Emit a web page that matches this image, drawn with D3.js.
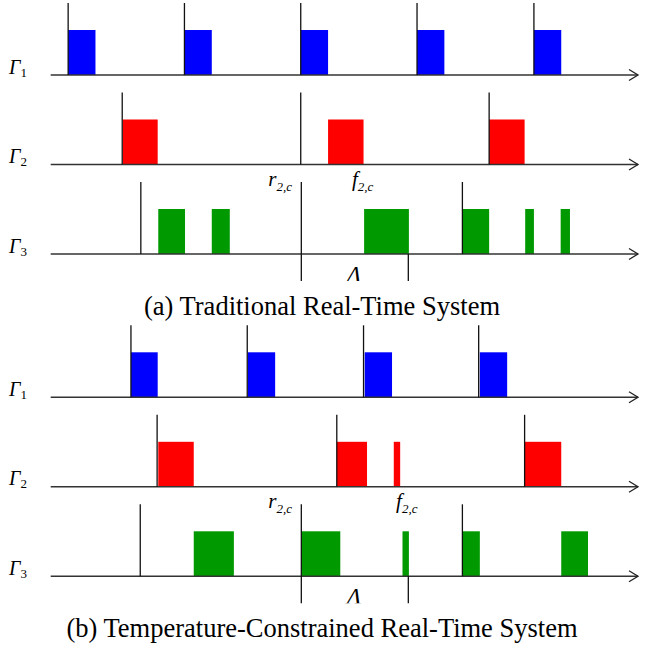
<!DOCTYPE html>
<html>
<head>
<meta charset="utf-8">
<script src="https://cdn.jsdelivr.net/npm/d3@7"></script>
<style>
  body { margin: 0; background: #fff; }
  text { font-family: "Liberation Serif", "Times New Roman", serif; }
</style>
</head>
<body>
<div id="chart"></div>
<script>
const width = 653, height = 645;

const taskNames = ["1", "2", "3"];
const taskColors = ["#0000ff", "#ff0000", "#009900"];

// panel (a) traditional
const releasesA = [[3, 23, 43, 63, 83.1], [12.3, 43, 75.4], [15.5, 43.1, 70.8]];
const jobsA = [
    [[3, 7.7], [23, 27.7], [43, 47.7], [63, 67.7], [83.1, 87.8]],
    [[12.4, 18.4], [47.7, 53.8], [75.4, 81.5]],
    [[18.5, 23.1], [27.7, 30.8], [53.9, 61.6], [70.8, 75.4], [81.6, 83.1], [87.7, 89.3]]
];
// panel (b) temperature constrained
const releasesB = [[13.8, 33.8, 53.8, 73.6], [18.3, 49.2, 81.5], [15.4, 43.1, 70.8]];
const jobsB = [
    [[13.8, 18.4], [33.9, 38.6], [54, 58.7], [73.8, 78.5]],
    [[18.5, 24.6], [49.2, 54.4], [59, 60.1], [81.5, 87.8]],
    [[24.6, 31.5], [43.1, 49.8], [60.5, 61.6], [70.8, 73.8], [87.8, 92.4]]
];
const critRelease = 43.1, critDeadline = 61.5;
const fLabelA = 51.8, fLabelB = 59.4;
const captions = ["(a) Traditional Real-Time System", "(b) Temperature-Constrained Real-Time System"];

let svg = d3.select("#chart").append("svg")
    .attr("width", width)
    .attr("height", height);

let x = d3.scaleLinear().domain([0, 101]).range([50.7, 638]);

function drawPanel(top, releases, jobs, fLabel, caption) {
    let g = svg.append("g");
    let rowY = d3.scaleLinear().domain([0, 2]).range([top, top + 179]);

    jobs.forEach(function(rowJobs, i) {
        let y0 = rowY(i);
        g.selectAll(null).data(rowJobs).enter()
            .append("rect")
            .attr("x", d => x(d[0]))
            .attr("y", y0 - 45)
            .attr("width", d => x(d[1]) - x(d[0]))
            .attr("height", 45)
            .attr("fill", taskColors[i]);

        // axis with open arrow
        g.append("line")
            .attr("x1", x(0)).attr("x2", x(101))
            .attr("y1", y0).attr("y2", y0)
            .attr("stroke", "#333").attr("stroke-width", 1.4);
        g.append("path")
            .attr("d", `M${x(101) - 9},${y0 - 5.5}L${x(101)},${y0}L${x(101) - 9},${y0 + 5.5}`)
            .attr("fill", "none").attr("stroke", "#222").attr("stroke-width", 1.3);

        g.selectAll(null).data(releases[i]).enter()
            .append("line")
            .attr("x1", d => x(d)).attr("x2", d => x(d))
            .attr("y1", y0 - 72)
            .attr("y2", d => (i === 2 && d === critRelease) ? y0 + 27 : y0)
            .attr("stroke", "#111").attr("stroke-width", 1.3);

        let lab = g.append("text")
            .attr("x", 9).attr("y", y0 - 1.5)
            .style("font-size", "20px");
        lab.append("tspan").style("font-style", "italic").text("Γ");
        lab.append("tspan").attr("dy", 3).style("font-size", "13px").text(taskNames[i]);
    });

    let y3 = rowY(2);
    g.append("line")
        .attr("x1", x(critDeadline)).attr("x2", x(critDeadline))
        .attr("y1", y3).attr("y2", y3 + 27)
        .attr("stroke", "#111").attr("stroke-width", 1.3);

    let r = g.append("text").attr("x", x(critRelease) - 33).attr("y", y3 - 68)
        .style("font-size", "21px").style("font-style", "italic");
    r.append("tspan").text("r");
    r.append("tspan").attr("dy", 5).style("font-size", "13px").text("2,c");

    let f = g.append("text").attr("x", x(fLabel)).attr("y", y3 - 68)
        .style("font-size", "21px").style("font-style", "italic");
    f.append("tspan").text("f");
    f.append("tspan").attr("dy", 5).style("font-size", "13px").text("2,c");

    let clipId = "clip" + top;
    svg.append("clipPath").attr("id", clipId)
        .append("rect").attr("x", 0).attr("y", y3).attr("width", width).attr("height", 27);
    g.append("text")
        .attr("x", 354)
        .attr("y", y3 + 28)
        .attr("clip-path", `url(#${clipId})`)
        .style("text-anchor", "middle")
        .style("font-size", "24px").style("font-style", "italic")
        .text("Λ");

    g.append("text")
        .attr("x", 322).attr("y", y3 + 61)
        .style("text-anchor", "middle")
        .style("font-size", "26.5px")
        .text(caption);
}

drawPanel(75, releasesA, jobsA, fLabelA, captions[0]);
drawPanel(397.3, releasesB, jobsB, fLabelB, captions[1]);
</script>
</body>
</html>
